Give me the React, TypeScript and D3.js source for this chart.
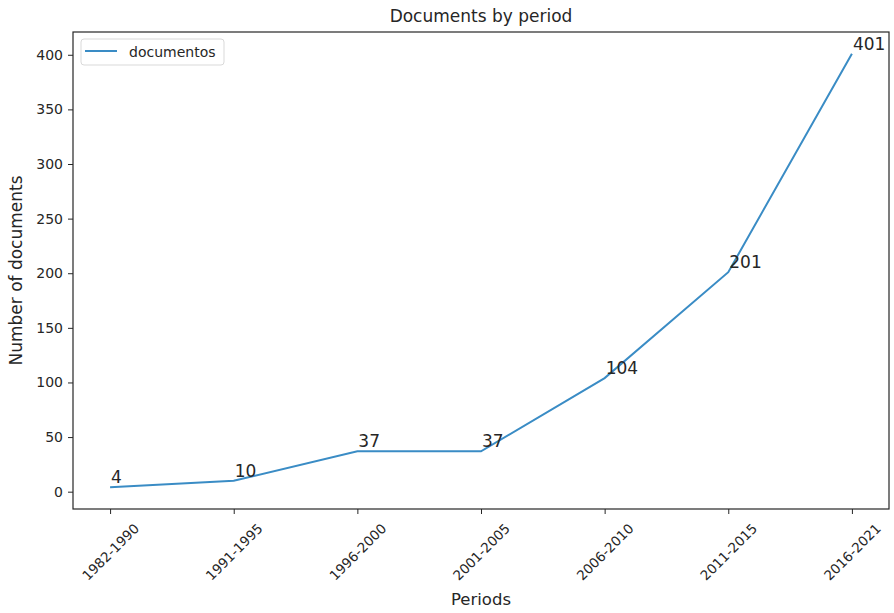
import React, { useEffect, useRef } from "react";
import * as d3 from "d3";

const periods = ["1982-1990", "1991-1995", "1996-2000", "2001-2005", "2006-2010", "2011-2015", "2016-2021"];
const documentos = [4, 10, 37, 37, 104, 201, 401];
const yTicks = [0, 50, 100, 150, 200, 250, 300, 350, 400];

const App = () => {
  const svgRef = useRef<SVGSVGElement>(null);

  useEffect(() => {
    const svg = d3.select(svgRef.current);
    svg.selectAll("*").remove();

    const w = 894;
    const h = 613;
    const left = 73, right = 889, top = 32, bottom = 509;
    const font = "DejaVu Sans, sans-serif";
    const ink = "#262626";
    const blue = "#3a8cc5";

    const x = d3.scaleLinear().domain([-0.3, periods.length - 1 + 0.3]).range([left, right]);
    const yMin = d3.min(documentos)!, yMax = d3.max(documentos)!;
    const pad = (yMax - yMin) * 0.05;
    const y = d3.scaleLinear().domain([yMin - pad, yMax + pad]).range([bottom, top]);

    svg.attr("width", w).attr("height", h)
      .style("position", "absolute").style("left", "0px").style("top", "0px");
    svg.append("rect").attr("width", w).attr("height", h).attr("fill", "#fff");

    // y axis
    const yAxis = svg.append("g").attr("transform", `translate(${left},0)`)
      .call(d3.axisLeft(y).tickValues(yTicks).tickSize(5).tickPadding(5));
    yAxis.select(".domain").remove();
    yAxis.selectAll("line").attr("stroke", ink);
    yAxis.selectAll("text").attr("font-family", font).attr("font-size", 14).attr("fill", ink);

    // x axis, labels rotated 45deg with their box centred under the tick
    const xAxis = svg.append("g").attr("transform", `translate(0,${bottom})`)
      .call(d3.axisBottom(x).tickValues(d3.range(periods.length)).tickFormat((d) => periods[d as number]).tickSize(5));
    xAxis.select(".domain").remove();
    xAxis.selectAll("line").attr("stroke", ink);
    xAxis.selectAll("text")
      .attr("font-family", font).attr("font-size", 13.5).attr("fill", ink)
      .attr("text-anchor", "middle").attr("dy", "0.35em").attr("y", 0)
      .attr("transform", "translate(0,43) rotate(-45)");

    // frame
    svg.append("rect")
      .attr("x", left).attr("y", top).attr("width", right - left).attr("height", bottom - top)
      .attr("fill", "none").attr("stroke", ink).attr("stroke-width", 1.2);

    // line
    const line = d3.line<number>().x((_, i) => x(i)).y((d) => y(d));
    svg.append("path").datum(documentos)
      .attr("d", line).attr("fill", "none").attr("stroke", blue).attr("stroke-width", 2);

    // annotations
    svg.selectAll(".ann").data(documentos).join("text")
      .attr("class", "ann")
      .attr("x", (_, i) => x(i) + 1)
      .attr("y", (d) => y(d) - 4)
      .attr("font-family", font).attr("font-size", 17).attr("fill", ink)
      .text((d) => d);

    // title and labels
    svg.append("text").attr("x", (left + right) / 2).attr("y", 22).attr("text-anchor", "middle")
      .attr("font-family", font).attr("font-size", 17).attr("fill", ink).text("Documents by period");
    svg.append("text").attr("x", (left + right) / 2).attr("y", 605).attr("text-anchor", "middle")
      .attr("font-family", font).attr("font-size", 16.5).attr("fill", ink).text("Periods");
    svg.append("text").attr("transform", `translate(22,${(top + bottom) / 2}) rotate(-90)`).attr("text-anchor", "middle")
      .attr("font-family", font).attr("font-size", 17).attr("fill", ink).text("Number of documents");

    // legend
    const lg = svg.append("g").attr("transform", `translate(${left + 8},${top + 7})`);
    lg.append("rect").attr("width", 143).attr("height", 26).attr("rx", 3)
      .attr("fill", "#fff").attr("stroke", "#d9d9d9");
    lg.append("line").attr("x1", 4).attr("x2", 36).attr("y1", 12).attr("y2", 12)
      .attr("stroke", blue).attr("stroke-width", 2);
    lg.append("text").attr("x", 48).attr("y", 18).attr("font-family", font).attr("font-size", 14)
      .attr("fill", ink).text("documentos");
  }, []);

  return <svg ref={svgRef} />;
};

export default App;
